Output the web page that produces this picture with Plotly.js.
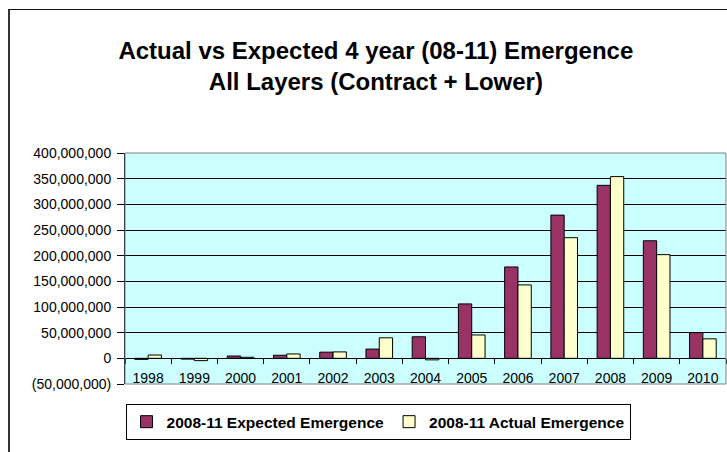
<!DOCTYPE html>
<html>
<head>
<meta charset="utf-8">
<script src="https://cdn.plot.ly/plotly-3.0.1.min.js"></script>
<style>
  html, body { margin: 0; padding: 0; background: #fff; overflow: hidden; }
  #wrap { position: relative; width: 727px; height: 452px; }
  #chart { position: absolute; left: 0; top: 0; width: 727px; height: 452px; }
  /* outer chart-area frame (runs off the right and bottom edges) */
  #frame { position: absolute; left: 8px; top: 9px; width: 800px; height: 500px;
           border-left: 2px solid #333; border-top: 1.5px solid #111; pointer-events: none; }
</style>
</head>
<body>
<div id="wrap">
  <div id="chart"></div>
  <div id="frame"></div>
</div>
<script>
// Accident years on the category axis
const years = ['1998','1999','2000','2001','2002','2003','2004','2005','2006','2007','2008','2009','2010'];

// Expected vs actual emergence over 2008-11
const expectedEmergence = [-2e6, -1.5e6, 4.5e6, 6e6, 12e6, 18e6, 42e6, 106e6, 178e6, 279e6, 337e6, 229e6, 50e6];
const actualEmergence   = [6.5e6, -4.5e6, 2e6, 8.5e6, 12.5e6, 40e6, -3e6, 45.5e6, 143e6, 235e6, 354e6, 202e6, 38e6];

// Value axis ticks, negatives shown in parentheses
const yTickVals = [-50e6, 0, 50e6, 100e6, 150e6, 200e6, 250e6, 300e6, 350e6, 400e6];
const yTickText = ['(50,000,000)', '0', '50,000,000', '100,000,000', '150,000,000',
                   '200,000,000', '250,000,000', '300,000,000', '350,000,000', '400,000,000'];

const FONT = 'Liberation Sans, Arial, sans-serif';
const yMin = -50e6, yMax = 400e6;

const traces = [
  {
    type: 'bar', name: '<b>2008-11 Expected Emergence</b>',
    x: years, y: expectedEmergence,
    marker: { color: '#993366', line: { color: '#000', width: 1 } },
    hoverinfo: 'x+y'
  },
  {
    type: 'bar', name: '<b>2008-11 Actual Emergence</b>',
    x: years, y: actualEmergence,
    marker: { color: '#FFFFCC', line: { color: '#000', width: 1 } },
    hoverinfo: 'x+y'
  }
];

const layout = {
  width: 727, height: 452,
  margin: { l: 125, r: 1, t: 153, b: 68, pad: 0 },
  paper_bgcolor: '#fff',
  plot_bgcolor: '#CCFFFF',
  font: { family: FONT, size: 14, color: '#000' },
  barmode: 'group', bargap: 0.424, bargroupgap: 0,
  title: {
    text: '<b>Actual vs Expected 4 year (08-11) Emergence<br>All Layers (Contract + Lower)</b>',
    font: { family: FONT, size: 24, color: '#000' },
    xref: 'container', x: 0.517, xanchor: 'center',
    yref: 'container', y: 0.869, yanchor: 'top'
  },
  xaxis: {
    type: 'category',
    anchor: 'free',
    // category axis crosses the value axis at zero
    position: (0 - yMin) / (yMax - yMin),
    showline: true, linecolor: '#000', linewidth: 1,
    ticks: 'outside', tickson: 'boundaries', ticklen: 5, tickcolor: '#000', tickwidth: 1,
    ticklabelstandoff: 7,
    showgrid: false, zeroline: false,
    tickfont: { family: FONT, size: 14, color: '#000' },
    fixedrange: true
  },
  yaxis: {
    range: [yMin, yMax],
    tickmode: 'array', tickvals: yTickVals, ticktext: yTickText,
    showline: true, linecolor: '#000', linewidth: 1,
    ticks: 'outside', ticklen: 7, tickcolor: '#000', tickwidth: 1,
    ticklabelstandoff: 3,
    showgrid: true, gridcolor: '#000', gridwidth: 1,
    zeroline: true, zerolinecolor: '#000', zerolinewidth: 1,
    tickfont: { family: FONT, size: 14, color: '#000' },
    fixedrange: true
  },
  shapes: [
    { type: 'rect', xref: 'paper', yref: 'paper', x0: 0, x1: 1, y0: 0, y1: 1,
      line: { color: '#808080', width: 1 }, fillcolor: 'rgba(0,0,0,0)', layer: 'above' }
  ],
  showlegend: true,
  legend: {
    orientation: 'h',
    xref: 'container', x: 0.52, xanchor: 'center',
    yref: 'container', y: 0.106, yanchor: 'top',
    bgcolor: '#fff', bordercolor: '#000', borderwidth: 1,
    font: { family: FONT, size: 15.5, color: '#000' },
    itemwidth: 30,
    traceorder: 'normal', itemclick: false, itemdoubleclick: false
  }
};

Plotly.newPlot('chart', traces, layout, { displayModeBar: false, staticPlot: true });
</script>
</body>
</html>
